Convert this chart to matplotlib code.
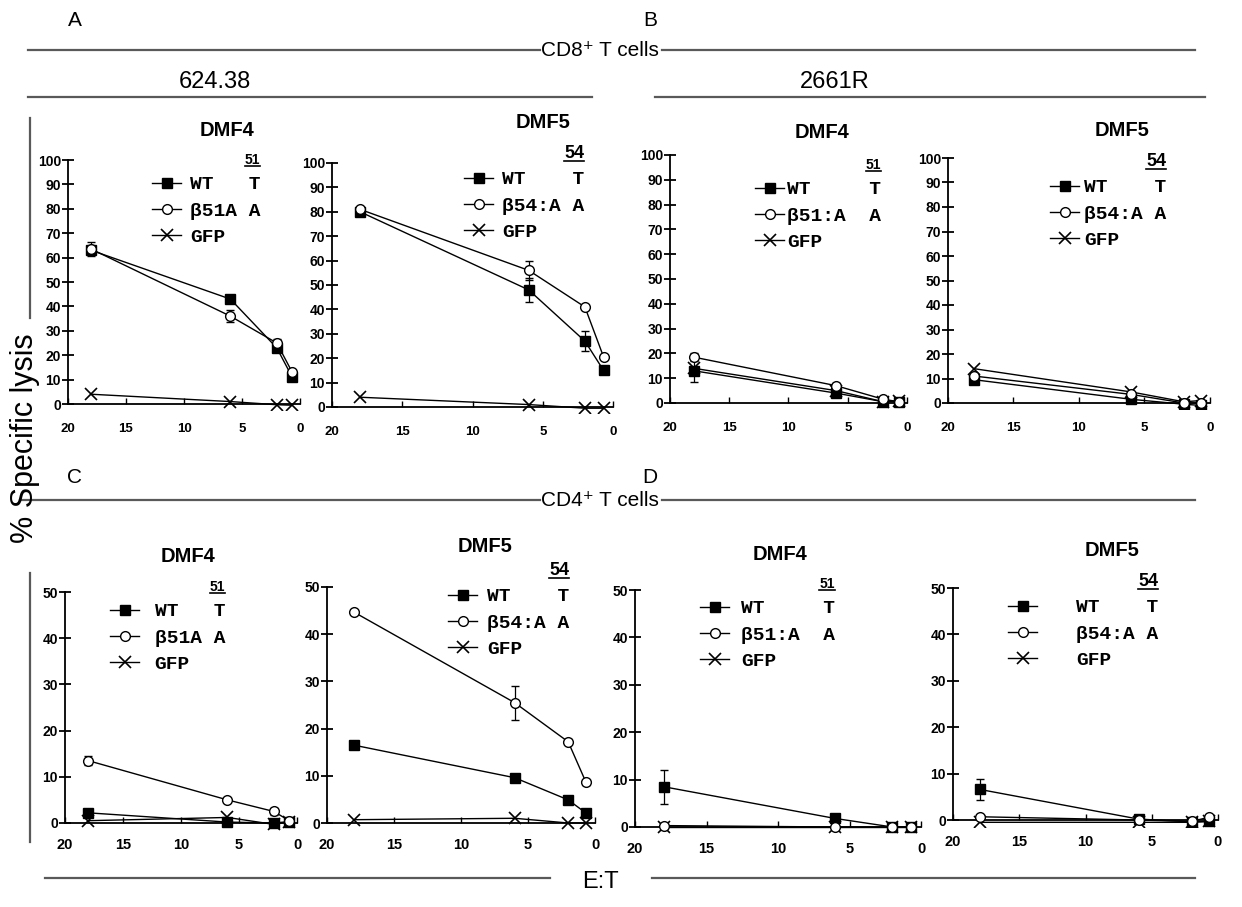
import matplotlib
matplotlib.use("Agg")
import matplotlib.pyplot as plt
from matplotlib.lines import Line2D

W, H = 1242, 907
plt.rcParams['font.family'] = ['Liberation Sans Narrow', 'Liberation Sans', 'DejaVu Sans']

# E:T ratios
et = [18, 6, 2, 0.67]
xticks = [20, 15, 10, 5, 0]

# A: CD8+ T cells, target 624.38
a4_wt = [63, 43, 23, 11]
a4_wt_err = [1.5, 1.5, 1, 1]
a4_mut = [63.5, 36, 25, 13]
a4_mut_err = [3, 2.5, 1.5, 1]
a4_gfp = [4, 1, -0.3, -0.5]

a5_wt = [80, 48, 27, 15]
a5_wt_err = [1, 5, 4, 1]
a5_mut = [81, 56, 41, 20.5]
a5_mut_err = [1, 4, 1, 1]
a5_gfp = [4, 1, -0.5, -0.5]

# B: CD8+ T cells, target 2661R
b4_wt = [13, 4, 0.5, 0.5]
b4_wt_err = [4.5, 1, 0.5, 0.5]
b4_mut = [18.5, 7, 1.5, 0.5]
b4_mut_err = [1.5, 1, 0.5, 0.5]
b4_gfp = [14, 5, 0.5, 1]

b5_wt = [9.5, 1.5, -0.5, -1]
b5_wt_err = [1, 0.5, 0.5, 0.5]
b5_mut = [11, 3.5, 0, 0]
b5_mut_err = [1, 0.5, 0.5, 0.5]
b5_gfp = [14, 4.5, 0.5, 1]

# C: CD4+ T cells, 624.38
c4_wt = [2.2, 0.2, 0, 0.3]
c4_wt_err = [0.5, 0.3, 0.3, 0.3]
c4_mut = [13.5, 5, 2.5, 0.5]
c4_mut_err = [1, 0.5, 0.8, 0.5]
c4_gfp = [0.5, 1.2, -0.3, 0.3]

c5_wt = [16.5, 9.6, 4.9, 2.1]
c5_wt_err = [0.5, 0.5, 0.5, 0.8]
c5_mut = [44.7, 25.5, 17.2, 8.6]
c5_mut_err = [0.5, 3.6, 0.5, 0.5]
c5_gfp = [0.7, 1.0, 0, 0]

# D: CD4+ T cells, 2661R
d4_wt = [8.5, 1.8, 0, 0]
d4_wt_err = [3.6, 0.3, 0.2, 0.2]
d4_mut = [0.3, 0, 0, 0]
d4_mut_err = [0.2, 0.2, 0.2, 0.2]
d4_gfp = [0, 0, 0, 0]

d5_wt = [6.6, 0.2, -0.4, -0.3]
d5_wt_err = [2.2, 0.3, 0.3, 0.3]
d5_mut = [0.7, 0, -0.3, 0.6]
d5_mut_err = [0.3, 0.2, 0.2, 0.3]
d5_gfp = [-0.5, -0.5, -0.5, -0.3]

fig = plt.figure(figsize=(W / 100, H / 100), dpi=100)


def px_rect(left, right, top, zero, ymax, ymin):
    ppu = (zero - top) / ymax
    bottom = zero - ymin * ppu
    return [left / W, 1 - bottom / H, (right - left) / W, (bottom - top) / H]


def hline(x0, x1, y, lw=1.6, color='0.35'):
    fig.add_artist(Line2D([x0 / W, x1 / W], [1 - y / H, 1 - y / H], color=color, lw=lw))


def vline(x, y0, y1, lw=1.6, color='0.35'):
    fig.add_artist(Line2D([x / W, x / W], [1 - y0 / H, 1 - y1 / H], color=color, lw=lw))


titles = []


def panel(geom, ymax, wt, wt_err, mut, mut_err, gfp, wt_lab, mut_lab, num,
          title_xy, leg_xy, textpad, xpad):
    ymin = -2.5 if ymax == 100 else -1.5
    ax = fig.add_axes(px_rect(*geom, ymax, ymin))
    ax.plot(et, wt, color='black', lw=1, marker='s', ms=6.5, mfc='black', mec='black',
            label=wt_lab, zorder=3)
    ax.plot(et, mut, color='black', lw=1, marker='o', ms=7, mfc='white', mec='black',
            label=mut_lab, zorder=4)
    ax.plot(et, gfp, color='black', lw=1, marker='x', ms=8, mew=1.2,
            label='GFP', zorder=2)
    ax.errorbar(et, wt, yerr=wt_err, fmt='none', ecolor='black', elinewidth=0.9, capsize=3, zorder=3)
    ax.errorbar(et, mut, yerr=mut_err, fmt='none', ecolor='black', elinewidth=0.9, capsize=3, zorder=3)

    ax.set_xlim(20, 0)
    ax.set_ylim(ymin, ymax)
    ax.set_xticks(xticks)
    ax.set_yticks(range(0, ymax + 1, 10))
    for s in ['top', 'right']:
        ax.spines[s].set_visible(False)
    ax.spines['bottom'].set_position(('data', 0))
    ax.spines['left'].set_bounds(0, ymax)
    ax.spines['left'].set_linewidth(1.3)
    ax.spines['bottom'].set_linewidth(1.3)
    ax.tick_params(axis='y', direction='inout', length=8, width=1.3, pad=1, labelsize=10)
    ax.tick_params(axis='x', direction='in', length=4, width=1, pad=xpad,
                   labelsize=9.5 if ymax == 100 else 10.5)
    for lab in ax.get_xticklabels() + ax.get_yticklabels():
        lab.set_fontweight('bold')
    ax.patch.set_alpha(0)

    leg = ax.legend(loc='upper left', bbox_to_anchor=(leg_xy[0] / W, 1 - leg_xy[1] / H),
                    bbox_transform=fig.transFigure, frameon=False, borderpad=0,
                    borderaxespad=0, handlelength=1.5, handletextpad=textpad,
                    labelspacing=0.45, title=num, alignment='right',
                    prop={'family': ['Liberation Mono', 'DejaVu Sans Mono'], 'weight': 'bold', 'size': 14})
    leg.get_title().set_fontweight('bold')
    leg.get_title().set_fontsize(10 if num == '51' else 13)
    leg.get_title().set_family(['Liberation Sans', 'DejaVu Sans'])
    titles.append(leg.get_title())

    fig.text(title_xy[0] / W, 1 - title_xy[1] / H, 'DMF' + title_xy[2], ha='center', va='center',
             fontsize=14.5, fontweight='bold', family=['Liberation Sans', 'DejaVu Sans'])
    return ax


# top row (geom: left, right, px at ymax, px at 0)
panel((68, 300, 160, 404), 100, a4_wt, a4_wt_err, a4_mut, a4_mut_err, a4_gfp,
      'WT   T', 'β51A A', '51', (227, 130, '4'), (152, 153), 0.45, 14)
panel((332, 613, 163, 407), 100, a5_wt, a5_wt_err, a5_mut, a5_mut_err, a5_gfp,
      'WT    T', 'β54:A A', '54', (543, 123, '5'), (464, 145), 0.45, 14)
panel((670, 907, 155, 403), 100, b4_wt, b4_wt_err, b4_mut, b4_mut_err, b4_gfp,
      'WT     T', 'β51:A  A', '51', (822, 132, '4'), (755, 158), 0.15, 14)
panel((948, 1210, 158, 403), 100, b5_wt, b5_wt_err, b5_mut, b5_mut_err, b5_gfp,
      'WT    T', 'β54:A A', '54', (1122, 130, '5'), (1050, 153), 0.25, 14)

# bottom row
panel((65, 297, 592, 823), 50, c4_wt, c4_wt_err, c4_mut, c4_mut_err, c4_gfp,
      'WT   T', 'β51A A', '51', (188, 557, '4'), (110, 580), 0.8, 11)
panel((327, 595, 587, 823), 50, c5_wt, c5_wt_err, c5_mut, c5_mut_err, c5_gfp,
      'WT    T', 'β54:A A', '54', (485, 547, '5'), (448, 562), 0.5, 11)
panel((635, 921, 590, 827), 50, d4_wt, d4_wt_err, d4_mut, d4_mut_err, d4_gfp,
      'WT     T', 'β51:A  A', '51', (780, 555, '4'), (700, 577), 0.6, 11)
panel((953, 1218, 588, 820), 50, d5_wt, d5_wt_err, d5_mut, d5_mut_err, d5_gfp,
      'WT    T', 'β54:A A', '54', (1112, 550, '5'), (1008, 573), 2.0, 11)

# header / group labels
head = ['Liberation Sans Narrow', 'Liberation Sans', 'DejaVu Sans']
fig.text(75 / W, 1 - 20 / H, 'A', fontsize=15, ha='center', va='center', family=head)
fig.text(650 / W, 1 - 20 / H, 'B', fontsize=15, ha='center', va='center', family=head)
fig.text(75 / W, 1 - 478 / H, 'C', fontsize=15, ha='center', va='center', family=head)
fig.text(650 / W, 1 - 478 / H, 'D', fontsize=15, ha='center', va='center', family=head)

fig.text(600 / W, 1 - 50 / H, 'CD8⁺ T cells', fontsize=15, ha='center', va='center', family=head)
hline(28, 540, 50)
hline(662, 1195, 50)
fig.text(215 / W, 1 - 82 / H, '624.38', fontsize=17, ha='center', va='center', family=head)
hline(28, 592, 97)
fig.text(835 / W, 1 - 82 / H, '2661R', fontsize=17, ha='center', va='center', family=head)
hline(655, 1205, 97)

fig.text(600 / W, 1 - 500 / H, 'CD4⁺ T cells', fontsize=15, ha='center', va='center', family=head)
hline(20, 540, 500)
hline(662, 1195, 500)

fig.text(25 / W, 1 - 438 / H, '% Specific lysis', fontsize=22, rotation=90,
         ha='center', va='center', family=['Liberation Sans', 'DejaVu Sans'])
vline(30, 118, 318)
vline(30, 573, 842)

fig.text(600 / W, 1 - 882 / H, 'E:T', fontsize=17, ha='center', va='center', family=head)
hline(45, 550, 878)
hline(652, 1195, 878)

# underline the residue numbers above the legends
fig.canvas.draw()
for t in titles:
    bb = t.get_window_extent()
    fig.add_artist(Line2D([bb.x0 / W, bb.x1 / W], [(bb.y0 + 1) / H, (bb.y0 + 1) / H],
                          color='black', lw=1.2))

fig.savefig('out.png', dpi=100)
